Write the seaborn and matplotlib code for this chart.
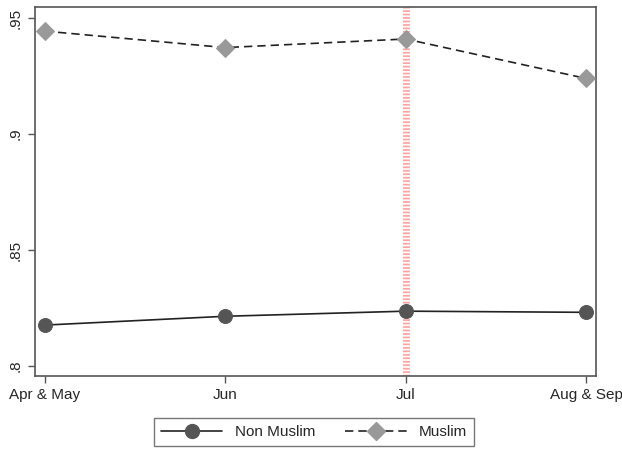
import numpy as np
import pandas as pd
import matplotlib.pyplot as plt
import seaborn as sns
from matplotlib.lines import Line2D

# ── DATA ───────────────────────────────────────────────────────────
periods = ["Apr & May", "Jun", "Jul", "Aug & Sep"]
non_muslim = [0.8177, 0.8215, 0.8237, 0.8232]
muslim = [0.9444, 0.9373, 0.9410, 0.9240]
yticks = [0.80, 0.85, 0.90, 0.95]
ytick_labels = [".8", ".85", ".9", ".95"]
event_period = "Jul"

df = pd.DataFrame({
    "period": periods * 2,
    "x": list(range(len(periods))) * 2,
    "share": non_muslim + muslim,
    "group": ["Non Muslim"] * len(periods) + ["Muslim"] * len(periods),
})

# ── PLOT ───────────────────────────────────────────────────────────
sns.set_style("white")
plt.rcParams["font.family"] = ["Liberation Sans", "DejaVu Sans"]

fig = plt.figure(figsize=(6.22, 4.51), dpi=100)
ax = fig.add_axes([0.056, 0.166, 0.903, 0.818])

ax.axvline(periods.index(event_period), color="#ff8c8c", linewidth=5,
           linestyle=(0, (0.25, 0.25)), alpha=0.8, zorder=1)

sns.lineplot(
    data=df, x="x", y="share", hue="group", style="group",
    palette={"Non Muslim": "#222222", "Muslim": "#222222"},
    dashes={"Non Muslim": "", "Muslim": (5, 3)},
    markers={"Non Muslim": "o", "Muslim": "D"},
    linewidth=1.2, legend=False, ax=ax, zorder=3,
)
# grey marker fills, lines stay dark
for line, mc, ms in zip(ax.get_lines()[1:], ["#555555", "#999999"], [10, 9]):
    line.set_markerfacecolor(mc)
    line.set_markeredgecolor(mc)
    line.set_markersize(ms)

ax.set_xlim(-0.055, 3.058)
ax.set_ylim(0.7957, 0.9547)
ax.set_xticks(range(len(periods)))
ax.set_xticklabels(periods, fontsize=11)
ax.set_yticks(yticks)
ax.set_yticklabels(ytick_labels, fontsize=11, rotation=90, va="center")
ax.set_xlabel("")
ax.set_ylabel("")
ax.tick_params(axis="both", length=5, width=1, color="#555555", left=True, bottom=True)
for sp in ax.spines.values():
    sp.set_color("#555555")
    sp.set_linewidth(1.2)

handles = [
    Line2D([], [], color="#222222", lw=1.2, marker="o", markersize=10,
           markerfacecolor="#555555", markeredgecolor="#555555"),
    Line2D([], [], color="#222222", lw=1.2, linestyle=(0, (5, 3)), marker="D",
           markersize=9, markerfacecolor="#999999", markeredgecolor="#999999"),
]
leg = fig.legend(handles, ["Non Muslim", "Muslim"], loc="center",
                 bbox_to_anchor=(0.505, 0.042), ncol=2, fontsize=11,
                 frameon=True, fancybox=False, handlelength=4.0,
                 handletextpad=0.8, columnspacing=2.0, borderpad=0.45)
leg.get_frame().set_edgecolor("#555555")
leg.get_frame().set_linewidth(1)

fig.savefig("out.png", dpi=100)
